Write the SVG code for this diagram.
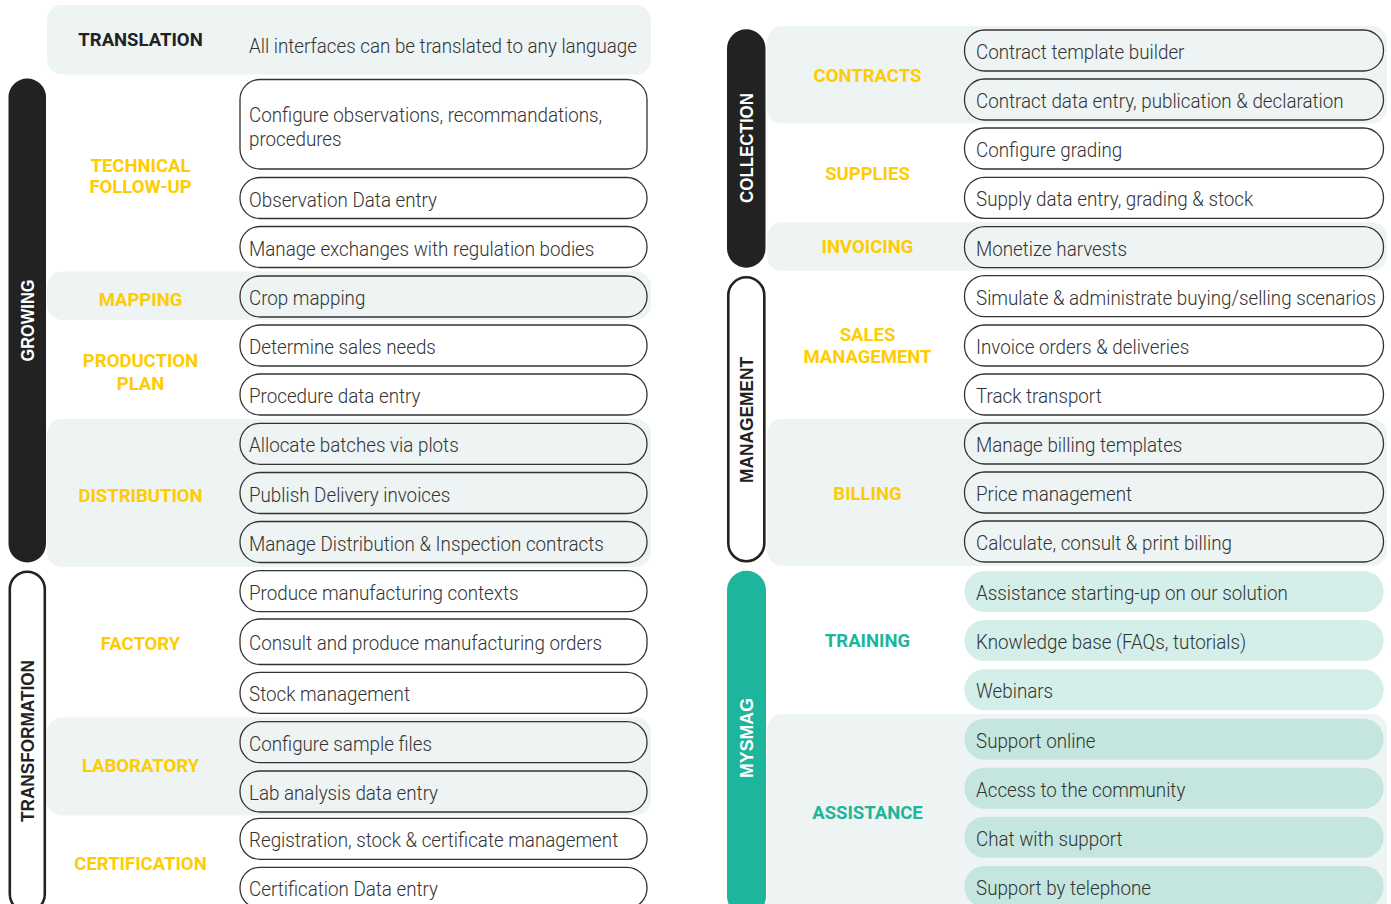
<svg xmlns="http://www.w3.org/2000/svg" width="1391" height="904" viewBox="0 0 1391 904">
<style>
.band{fill:#edf4f3}
.box{fill:none;stroke:#333;stroke-width:1.3}
.tb1{fill:#d4efe9}
.tb2{fill:#c4e6de}
.it{font-family:Roboto,"Liberation Sans",sans-serif;font-weight:300;font-size:21px;fill:#333}
.lb{font-family:Roboto,"Liberation Sans",sans-serif;font-weight:700;font-size:18.5px;fill:#ffcc00;text-anchor:middle}
.lt{fill:#1db59b}
.vt{font-family:"Liberation Sans",Arial,sans-serif;font-weight:700;font-size:19px;text-anchor:middle}
</style>
<rect width="1391" height="904" fill="#fff"/>
<g id="bands">
<rect class="band" x="47" y="5" width="604" height="69.5" rx="15"/>
<rect class="band" x="47" y="271.5" width="604" height="48.5" rx="15"/>
<rect class="band" x="47" y="419" width="604" height="148" rx="15"/>
<rect class="band" x="47" y="717.5" width="604" height="98" rx="15"/>
<rect class="band" x="767" y="26" width="620" height="97.5" rx="15"/>
<rect class="band" x="767" y="222.3" width="620" height="48.5" rx="15"/>
<rect class="band" x="767" y="419" width="620" height="147" rx="15"/>
<rect class="band" x="767" y="714" width="620" height="210" rx="15"/>
</g>
<g id="bars">
<g id="growing"><rect x="8.5" y="78.5" width="37.5" height="484" rx="18.75" fill="#222"/>
<text class="vt" fill="#fff" textLength="82" lengthAdjust="spacingAndGlyphs" transform="translate(34.3 320.5) rotate(-90)">GROWING</text></g>
<g id="transformation"><rect x="9.8" y="571.8" width="35" height="340" rx="17.5" fill="none" stroke="#222" stroke-width="2.6"/>
<text class="vt" fill="#222" textLength="162" lengthAdjust="spacingAndGlyphs" transform="translate(34.3 741) rotate(-90)">TRANSFORMATION</text></g>
<g id="collection"><rect x="727" y="29.3" width="38.5" height="238.4" rx="19.25" fill="#222"/>
<text class="vt" fill="#fff" textLength="110" lengthAdjust="spacingAndGlyphs" transform="translate(753.3 148) rotate(-90)">COLLECTION</text></g>
<g id="management"><rect x="728.3" y="277.3" width="36" height="284" rx="18" fill="none" stroke="#222" stroke-width="2.6"/>
<text class="vt" fill="#222" textLength="126" lengthAdjust="spacingAndGlyphs" transform="translate(753.3 420) rotate(-90)">MANAGEMENT</text></g>
<g id="mysmag"><rect x="727" y="570.7" width="39" height="345" rx="19.5" fill="#1db59b"/>
<text class="vt" fill="#fff" textLength="80" lengthAdjust="spacingAndGlyphs" transform="translate(753.3 738) rotate(-90)">MYSMAG</text></g>
</g>
<g id="labels">
<text class="lb" x="140.5" y="46" style="fill:#222">TRANSLATION</text>
<text class="lb" x="140.5" y="171.7">TECHNICAL</text>
<text class="lb" x="140.5" y="193.3">FOLLOW-UP</text>
<text class="lb" x="140.5" y="305.7">MAPPING</text>
<text class="lb" x="140.5" y="367.3">PRODUCTION</text>
<text class="lb" x="140.5" y="390">PLAN</text>
<text class="lb" x="140.5" y="502.3">DISTRIBUTION</text>
<text class="lb" x="140.5" y="650">FACTORY</text>
<text class="lb" x="140.5" y="772.3">LABORATORY</text>
<text class="lb" x="140.5" y="870">CERTIFICATION</text>
<text class="lb" x="867.5" y="81.7">CONTRACTS</text>
<text class="lb" x="867.5" y="180">SUPPLIES</text>
<text class="lb" x="867.5" y="253.3">INVOICING</text>
<text class="lb" x="867.5" y="340.7">SALES</text>
<text class="lb" x="867.5" y="363.3">MANAGEMENT</text>
<text class="lb" x="867.5" y="500">BILLING</text>
<text class="lb lt" x="867.5" y="646.7">TRAINING</text>
<text class="lb lt" x="867.5" y="819">ASSISTANCE</text>
</g>
<g id="left-nodes">
<g id="n-translation"><text class="it" transform="translate(249 53) scale(0.895 1)">All interfaces can be translated to any language</text></g>
<g id="n1"><rect class="box" x="240" y="79.5" width="407" height="89.5" rx="20"/><text class="it" transform="translate(249 121.5) scale(0.895 1)">Configure observations, recommandations,</text><text class="it" transform="translate(249 146) scale(0.895 1)">procedures</text></g>
<g id="n2"><rect class="box" x="240" y="177.5" width="407" height="41" rx="20"/><text class="it" transform="translate(249 206.5) scale(0.895 1)">Observation Data entry</text></g>
<g id="n3"><rect class="box" x="240" y="226.5" width="407" height="41" rx="20"/><text class="it" transform="translate(249 255.5) scale(0.895 1)">Manage exchanges with regulation bodies</text></g>
<g id="n4"><rect class="box" x="240" y="276" width="407" height="41" rx="20"/><text class="it" transform="translate(249 305) scale(0.895 1)">Crop mapping</text></g>
<g id="n5"><rect class="box" x="240" y="325" width="407" height="41" rx="20"/><text class="it" transform="translate(249 354) scale(0.895 1)">Determine sales needs</text></g>
<g id="n6"><rect class="box" x="240" y="374" width="407" height="41" rx="20"/><text class="it" transform="translate(249 403) scale(0.895 1)">Procedure data entry</text></g>
<g id="n7"><rect class="box" x="240" y="423.3" width="407" height="41" rx="20"/><text class="it" transform="translate(249 452.3) scale(0.895 1)">Allocate batches via plots</text></g>
<g id="n8"><rect class="box" x="240" y="472.5" width="407" height="41" rx="20"/><text class="it" transform="translate(249 501.5) scale(0.895 1)">Publish Delivery invoices</text></g>
<g id="n9"><rect class="box" x="240" y="521.5" width="407" height="41" rx="20"/><text class="it" transform="translate(249 550.5) scale(0.895 1)">Manage Distribution &amp; Inspection contracts</text></g>
<g id="n10"><rect class="box" x="240" y="570.7" width="407" height="41" rx="20"/><text class="it" transform="translate(249 599.7) scale(0.895 1)">Produce manufacturing contexts</text></g>
<g id="n11"><rect class="box" x="240" y="619" width="407" height="45.5" rx="20"/><text class="it" transform="translate(249 650) scale(0.895 1)">Consult and produce manufacturing orders</text></g>
<g id="n12"><rect class="box" x="240" y="672.3" width="407" height="41" rx="20"/><text class="it" transform="translate(249 701.3) scale(0.895 1)">Stock management</text></g>
<g id="n13"><rect class="box" x="240" y="721.7" width="407" height="41" rx="20"/><text class="it" transform="translate(249 750.7) scale(0.895 1)">Configure sample files</text></g>
<g id="n14"><rect class="box" x="240" y="771" width="407" height="41" rx="20"/><text class="it" transform="translate(249 800) scale(0.895 1)">Lab analysis data entry</text></g>
<g id="n15"><rect class="box" x="240" y="818.3" width="407" height="41" rx="20"/><text class="it" transform="translate(249 847.3) scale(0.895 1)">Registration, stock &amp; certificate management</text></g>
<g id="n16"><rect class="box" x="240" y="867.3" width="407" height="41" rx="20"/><text class="it" transform="translate(249 896.3) scale(0.895 1)">Certification Data entry</text></g>
</g>
<g id="right-nodes">
<g id="r1"><rect class="box" x="964.5" y="30" width="419" height="41" rx="20"/><text class="it" transform="translate(976 59) scale(0.895 1)">Contract template builder</text></g>
<g id="r2"><rect class="box" x="964.5" y="79" width="419" height="41" rx="20"/><text class="it" transform="translate(976 108) scale(0.895 1)">Contract data entry, publication &amp; declaration</text></g>
<g id="r3"><rect class="box" x="964.5" y="128" width="419" height="41" rx="20"/><text class="it" transform="translate(976 157) scale(0.895 1)">Configure grading</text></g>
<g id="r4"><rect class="box" x="964.5" y="177.3" width="419" height="41" rx="20"/><text class="it" transform="translate(976 206.3) scale(0.895 1)">Supply data entry, grading &amp; stock</text></g>
<g id="r5"><rect class="box" x="964.5" y="226.7" width="419" height="41" rx="20"/><text class="it" transform="translate(976 255.7) scale(0.895 1)">Monetize harvests</text></g>
<g id="r6"><rect class="box" x="964.5" y="275.7" width="419" height="41" rx="20"/><text class="it" transform="translate(976 304.7) scale(0.895 1)">Simulate &amp; administrate buying/selling scenarios</text></g>
<g id="r7"><rect class="box" x="964.5" y="325" width="419" height="41" rx="20"/><text class="it" transform="translate(976 354) scale(0.895 1)">Invoice orders &amp; deliveries</text></g>
<g id="r8"><rect class="box" x="964.5" y="374" width="419" height="41" rx="20"/><text class="it" transform="translate(976 403) scale(0.895 1)">Track transport</text></g>
<g id="r9"><rect class="box" x="964.5" y="423" width="419" height="41" rx="20"/><text class="it" transform="translate(976 452) scale(0.895 1)">Manage billing templates</text></g>
<g id="r10"><rect class="box" x="964.5" y="472" width="419" height="41" rx="20"/><text class="it" transform="translate(976 501) scale(0.895 1)">Price management</text></g>
<g id="r11"><rect class="box" x="964.5" y="521" width="419" height="41" rx="20"/><text class="it" transform="translate(976 550) scale(0.895 1)">Calculate, consult &amp; print billing</text></g>
<g id="r12"><rect class="tb1" x="964.5" y="571" width="419" height="41" rx="20"/><text class="it" transform="translate(976 600) scale(0.895 1)">Assistance starting-up on our solution</text></g>
<g id="r13"><rect class="tb1" x="964.5" y="620" width="419" height="41" rx="20"/><text class="it" transform="translate(976 649) scale(0.895 1)">Knowledge base (FAQs, tutorials)</text></g>
<g id="r14"><rect class="tb1" x="964.5" y="669.3" width="419" height="41" rx="20"/><text class="it" transform="translate(976 698.3) scale(0.895 1)">Webinars</text></g>
<g id="r15"><rect class="tb2" x="964.5" y="718.7" width="419" height="41" rx="20"/><text class="it" transform="translate(976 747.7) scale(0.895 1)">Support online</text></g>
<g id="r16"><rect class="tb2" x="964.5" y="767.7" width="419" height="41" rx="20"/><text class="it" transform="translate(976 796.7) scale(0.895 1)">Access to the community</text></g>
<g id="r17"><rect class="tb2" x="964.5" y="816.7" width="419" height="41" rx="20"/><text class="it" transform="translate(976 845.7) scale(0.895 1)">Chat with support</text></g>
<g id="r18"><rect class="tb2" x="964.5" y="866" width="419" height="41" rx="20"/><text class="it" transform="translate(976 895) scale(0.895 1)">Support by telephone</text></g>
</g>
<g id="connectors"></g>
</svg>
